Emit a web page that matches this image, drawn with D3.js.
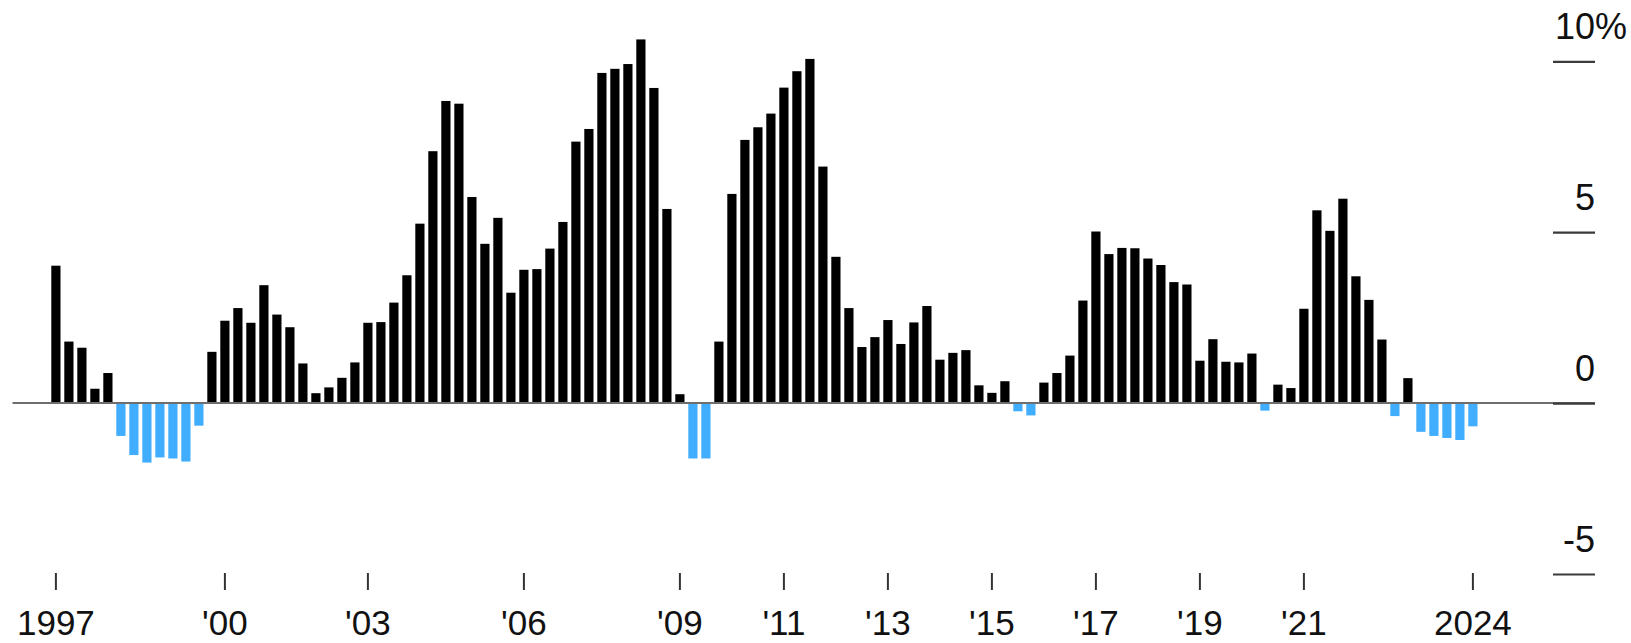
<!DOCTYPE html>
<html>
<head>
<meta charset="utf-8">
<script src="https://cdn.jsdelivr.net/npm/d3@7"></script>
<style>
  html, body { margin: 0; padding: 0; background: #fff; }
  svg { display: block; }
  text { font-family: "Liberation Sans", Arial, Helvetica, sans-serif; fill: #111; }
</style>
</head>
<body>
<svg id="chart" width="1631" height="643"></svg>
<script>
// Quarterly categories, 1997 Q1 .. 2024 Q2
const years = d3.range(1997, 2025);
const quarters = years.flatMap(y => [1, 2, 3, 4].map(q => `${y} Q${q}`)).slice(0, 110);

// Values (% change)
const values = [
  4.02, 1.80, 1.62, 0.42, 0.88, -0.96, -1.52, -1.74, -1.59, -1.62,
  -1.71, -0.66, 1.50, 2.41, 2.78, 2.35, 3.45, 2.59, 2.22, 1.16,
  0.29, 0.46, 0.74, 1.19, 2.35, 2.37, 2.94, 3.74, 5.25, 7.37,
  8.84, 8.76, 6.03, 4.66, 5.42, 3.23, 3.90, 3.92, 4.52, 5.30,
  7.65, 8.02, 9.66, 9.78, 9.92, 10.64, 9.22, 5.68, 0.26, -1.62,
  -1.62, 1.80, 6.12, 7.70, 8.07, 8.47, 9.23, 9.71, 10.07, 6.92,
  4.28, 2.78, 1.64, 1.93, 2.43, 1.73, 2.36, 2.84, 1.27, 1.47,
  1.55, 0.52, 0.30, 0.64, -0.24, -0.36, 0.60, 0.88, 1.39, 3.00,
  5.02, 4.36, 4.54, 4.53, 4.23, 4.04, 3.54, 3.47, 1.24, 1.87,
  1.21, 1.19, 1.45, -0.22, 0.54, 0.44, 2.76, 5.64, 5.04, 5.98,
  3.71, 3.02, 1.86, -0.38, 0.73, -0.84, -0.96, -1.02, -1.08, -0.68
];

// X-axis ticks
const xTickQuarters = ["1997 Q1", "2000 Q2", "2003 Q1", "2006 Q1", "2009 Q1", "2011 Q1",
                       "2013 Q1", "2015 Q1", "2017 Q1", "2019 Q1", "2021 Q1", "2024 Q2"];
const xTickLabels = ["1997", "'00", "'03", "'06", "'09", "'11",
                     "'13", "'15", "'17", "'19", "'21", "2024"];

// Y-axis ticks
const yTicks = [-5, 0, 5, 10];
const yTickLabels = ["-5", "0", "5", "10"];

const data = quarters.map((q, i) => ({ q, v: values[i] }));

const svg = d3.select("#chart");

const x = d3.scaleBand()
  .domain(quarters)
  .range([47.5, 1481.3])
  .paddingInner(0.292)
  .paddingOuter(0.292);

const y = d3.scaleLinear()
  .domain([-5, 10])
  .range([574, 61.3]);

const posColor = "#000000";
const negColor = "#40adff";

// Bars
svg.append("g")
  .selectAll("rect")
  .data(data)
  .join("rect")
  .attr("x", d => x(d.q))
  .attr("width", x.bandwidth())
  .attr("y", d => y(Math.max(0, d.v)))
  .attr("height", d => Math.abs(y(d.v) - y(0)))
  .attr("fill", d => d.v >= 0 ? posColor : negColor);

// Zero baseline
svg.append("line")
  .attr("x1", 12.5)
  .attr("x2", 1595)
  .attr("y1", y(0))
  .attr("y2", y(0))
  .attr("stroke", "#6e6e6e")
  .attr("stroke-width", 2);

// Y axis (short grid segments on the right with labels above)
const yAxis = d3.axisLeft(y)
  .tickValues(yTicks)
  .tickSize(42)
  .tickFormat((d, i) => yTickLabels[i]);

const yg = svg.append("g")
  .attr("transform", "translate(1595,0)")
  .call(yAxis);
yg.select(".domain").remove();
yg.selectAll(".tick line")
  .attr("stroke", "#3a3a3a")
  .attr("stroke-width", 2.2);
yg.selectAll(".tick text")
  .attr("x", 0)
  .attr("y", -22.5)
  .attr("dy", null)
  .attr("text-anchor", "end")
  .attr("fill", "#111")
  .style("font-size", "36px")
  .style("font-family", "'Liberation Sans', Arial, sans-serif");
// percent sign after the top label
yg.selectAll(".tick")
  .filter(d => d === d3.max(yTicks))
  .append("text")
  .attr("x", 0)
  .attr("y", -22.5)
  .attr("text-anchor", "start")
  .attr("fill", "#111")
  .style("font-size", "36px")
  .style("font-family", "'Liberation Sans', Arial, sans-serif")
  .text("%");

// X axis
const xAxis = d3.axisBottom(x)
  .tickValues(xTickQuarters)
  .tickSize(17)
  .tickFormat((d, i) => xTickLabels[i]);

const xg = svg.append("g")
  .attr("transform", "translate(0,573)")
  .call(xAxis);
xg.select(".domain").remove();
xg.selectAll(".tick line")
  .attr("stroke", "#333")
  .attr("stroke-width", 2);
xg.selectAll(".tick text")
  .attr("y", 62)
  .attr("dy", null)
  .attr("fill", "#111")
  .style("font-size", "35px")
  .style("font-family", "'Liberation Sans', Arial, sans-serif");
</script>
</body>
</html>
